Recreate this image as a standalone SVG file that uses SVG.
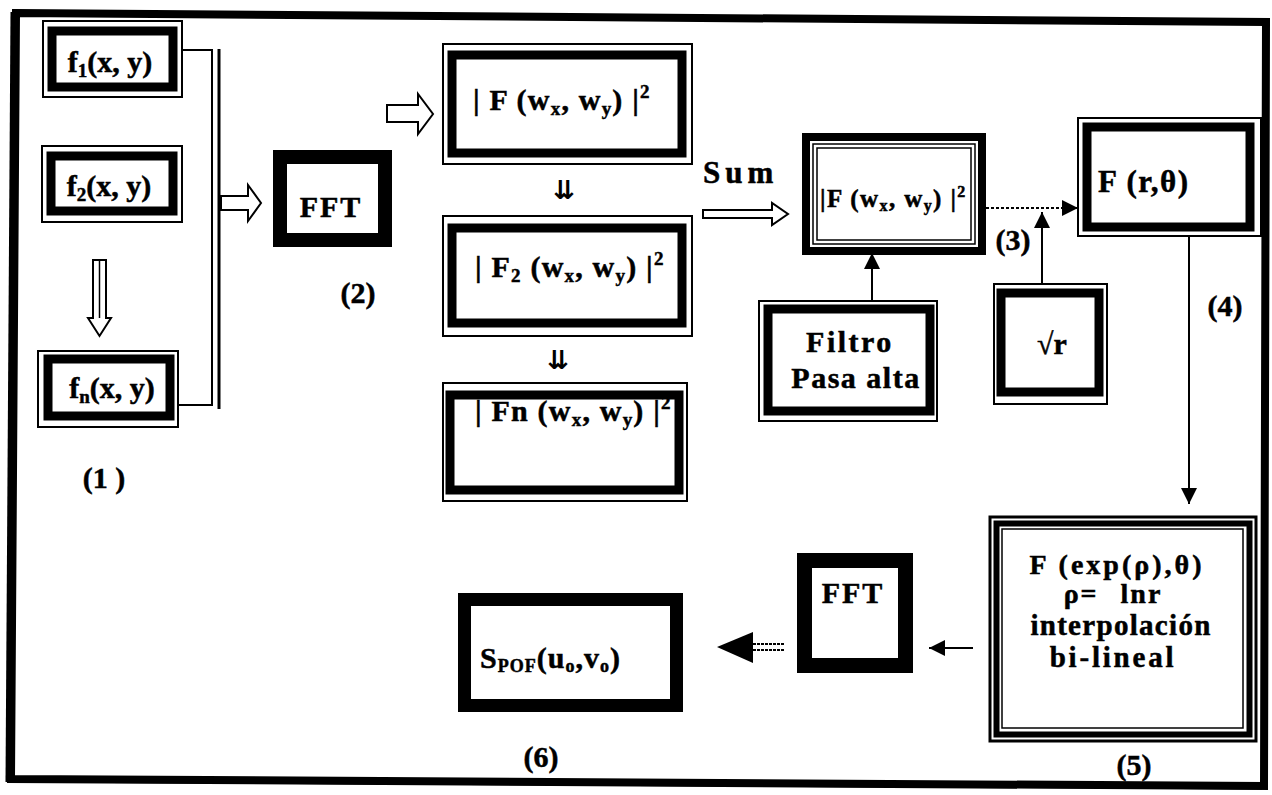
<svg xmlns="http://www.w3.org/2000/svg" width="1272" height="795" viewBox="0 0 1272 795">
  <style>
    .t { font-family: "Liberation Serif", "Times New Roman", serif; font-weight: bold; fill: #000; stroke: #000; stroke-width: 0.5; }
    .thin { fill: none; stroke: #000; stroke-width: 2; }
    .hair { fill: none; stroke: #000; stroke-width: 1.5; }
    .band { fill: none; stroke: #000; stroke-width: 9; }
    .heavy { fill: none; stroke: #000; }
    .hollow { fill: #fff; stroke: #000; stroke-width: 2; stroke-linejoin: miter; }
    .wire { fill: none; stroke: #000; stroke-width: 2; }
    .dots { fill: none; stroke: #000; stroke-width: 2; stroke-dasharray: 3 2; }
    .head { fill: #000; stroke: none; }
    .sym { font-family: "DejaVu Sans", sans-serif; font-weight: bold; fill: #000; }
  </style>
  <defs>
    <marker id="tip" viewBox="0 0 16 16" refX="16" refY="8" markerWidth="16" markerHeight="16" markerUnits="userSpaceOnUse" orient="auto">
      <path d="M0,0 L16,8 L0,16 Z" fill="#000"/>
    </marker>
  </defs>

  <rect width="1272" height="795" fill="#fff"/>

  <!-- page frame -->
  <g id="frame">
    <path d="M16,13 L1266,22 L1264,786 L11,779 Z" fill="none" stroke="#000" stroke-width="8" stroke-linejoin="miter"/>
    <line x1="13" y1="12" x2="8" y2="782" stroke="#000" stroke-width="5"/>
    <line x1="16" y1="12" x2="1262" y2="21" stroke="#000" stroke-width="3"/>
    <line x1="11" y1="781" x2="1262" y2="788" stroke="#000" stroke-width="3"/>
  </g>

  <!-- input images -->
  <g id="f1">
    <rect class="thin" x="43" y="21" width="139" height="76"/>
    <rect class="band" x="52" y="31" width="121" height="56"/>
    <text class="t" x="110" y="72" font-size="30" text-anchor="middle">f<tspan font-size="19" dy="5">1</tspan><tspan dy="-5">(x, y)</tspan></text>
  </g>
  <g id="f2">
    <rect class="thin" x="42" y="146" width="140" height="76"/>
    <rect class="band" x="51" y="156" width="122" height="55"/>
    <text class="t" x="109" y="196" font-size="30" text-anchor="middle">f<tspan font-size="19" dy="5">2</tspan><tspan dy="-5">(x, y)</tspan></text>
  </g>
  <g id="fn">
    <rect class="thin" x="38" y="351" width="140" height="76"/>
    <rect class="band" x="48" y="359" width="122" height="57"/>
    <text class="t" x="112" y="398" font-size="30" text-anchor="middle">f<tspan font-size="19" dy="5">n</tspan><tspan dy="-5">(x, y)</tspan></text>
  </g>
  <text class="t" x="104" y="488" font-size="30" text-anchor="middle">(1 )</text>

  <!-- first transform -->
  <g id="fft1">
    <rect class="heavy" x="280" y="157" width="105" height="83" stroke-width="14"/>
    <text class="t" x="331" y="217" font-size="30" text-anchor="middle" letter-spacing="2">FFT</text>
  </g>
  <text class="t" x="358" y="303" font-size="30" text-anchor="middle">(2)</text>

  <!-- power spectra -->
  <g id="spec1">
    <rect class="thin" x="443" y="44" width="249" height="120"/>
    <rect class="band" x="452" y="55" width="230" height="98" stroke-width="10"/>
    <text class="t" x="473" y="110" font-size="30" letter-spacing="1.2">| F (w<tspan font-size="19" dy="5">x</tspan><tspan dy="-5">, w</tspan><tspan font-size="19" dy="5">y</tspan><tspan dy="-5">) |</tspan><tspan font-size="19" dy="-12">2</tspan></text>
  </g>
  <g id="spec2">
    <rect class="thin" x="443" y="216" width="249" height="120"/>
    <rect class="band" x="452" y="228" width="230" height="95" stroke-width="10"/>
    <text class="t" x="475" y="277" font-size="30" letter-spacing="1.2">| F<tspan font-size="19" dy="5">2</tspan><tspan dy="-5"> (w</tspan><tspan font-size="19" dy="5">x</tspan><tspan dy="-5">, w</tspan><tspan font-size="19" dy="5">y</tspan><tspan dy="-5">) |</tspan><tspan font-size="19" dy="-12">2</tspan></text>
  </g>
  <g id="specn">
    <rect class="thin" x="443" y="383" width="244" height="118"/>
    <rect class="band" x="450" y="395" width="229" height="95" stroke-width="9"/>
    <text class="t" x="475" y="421" font-size="30" letter-spacing="1.2">| Fn (w<tspan font-size="19" dy="5">x</tspan><tspan dy="-5">, w</tspan><tspan font-size="19" dy="5">y</tspan><tspan dy="-5">) |</tspan><tspan font-size="19" dy="-12">2</tspan></text>
  </g>
  <text class="sym" x="564" y="199" font-size="26" text-anchor="middle">⇊</text>
  <text class="sym" x="558" y="369" font-size="26" text-anchor="middle">⇊</text>

  <!-- summed spectrum -->
  <text class="t" x="703" y="183" font-size="31" letter-spacing="5">Sum</text>
  <g id="sum">
    <rect class="heavy" x="806" y="137" width="176" height="114" stroke-width="8"/>
    <rect class="hair" x="813" y="144" width="162" height="100"/>
    <rect class="hair" x="817" y="148" width="154" height="92"/>
    <text class="t" x="820" y="207" font-size="25" letter-spacing="1.4">|F (w<tspan font-size="16" dy="4">x</tspan><tspan dy="-4">, w</tspan><tspan font-size="16" dy="4">y</tspan><tspan dy="-4">) |</tspan><tspan font-size="16" dy="-10">2</tspan></text>
  </g>

  <g id="filtro">
    <rect class="thin" x="759" y="301" width="178" height="120"/>
    <rect class="band" x="768" y="309" width="162" height="102"/>
    <text class="t" x="850" y="352" font-size="30" text-anchor="middle" letter-spacing="2.5">Filtro</text>
    <text class="t" x="856" y="388" font-size="30" text-anchor="middle" letter-spacing="1.5">Pasa alta</text>
  </g>

  <g id="raiz">
    <rect class="thin" x="994" y="284" width="113" height="120"/>
    <rect class="band" x="1001" y="293" width="98" height="99" stroke-width="8"/>
    <text class="t" x="1052" y="354" font-size="30" text-anchor="middle">√r</text>
  </g>
  <text class="t" x="1013" y="250" font-size="30" text-anchor="middle">(3)</text>

  <g id="polar">
    <rect class="thin" x="1078" y="118" width="183" height="118"/>
    <rect class="band" x="1087" y="127" width="163" height="100" stroke-width="10"/>
    <text class="t" x="1098" y="192" font-size="31" letter-spacing="1.5">F (r,θ)</text>
  </g>
  <text class="t" x="1225" y="316" font-size="30" text-anchor="middle">(4)</text>

  <g id="logpolar">
    <rect class="heavy" x="990" y="517" width="266" height="224" stroke-width="3"/>
    <rect class="heavy" x="996.5" y="523.5" width="253" height="211" stroke-width="6"/>
    <rect class="hair" x="1002" y="529" width="241" height="199"/>
    <text class="t" x="1117" y="574" font-size="28" text-anchor="middle" letter-spacing="3">F (exp(ρ),θ)</text>
    <text class="t" x="1113" y="603" font-size="28" text-anchor="middle" letter-spacing="2">ρ=<tspan dx="22">lnr</tspan></text>
    <text class="t" x="1121" y="635" font-size="29" text-anchor="middle" letter-spacing="1.3">interpolación</text>
    <text class="t" x="1113" y="667" font-size="29" text-anchor="middle" letter-spacing="2.8">bi-lineal</text>
  </g>
  <text class="t" x="1134" y="775" font-size="30" text-anchor="middle">(5)</text>

  <g id="fft2">
    <rect class="heavy" x="804.5" y="560.5" width="101" height="105" stroke-width="15"/>
    <text class="t" x="853" y="603" font-size="30" text-anchor="middle" letter-spacing="2">FFT</text>
  </g>

  <g id="spof">
    <rect class="heavy" x="464.5" y="599.5" width="212" height="106" stroke-width="13"/>
    <text class="t" x="480" y="668" font-size="30" letter-spacing="1">S<tspan font-size="18" dy="4">POF</tspan><tspan dy="-4">(u</tspan><tspan font-size="18" dy="4">o</tspan><tspan dy="-4">,v</tspan><tspan font-size="18" dy="4">o</tspan><tspan dy="-4">)</tspan></text>
  </g>
  <text class="t" x="541" y="767" font-size="30" text-anchor="middle">(6)</text>

  <!-- connectors -->
  <g id="connectors">
    <!-- bracket gathering the inputs -->
    <polyline class="thin" points="183,50 212,50 212,405 179,405"/>
    <line x1="219" y1="49" x2="219" y2="409" stroke="#000" stroke-width="3"/>
    <polygon class="hollow" points="221,196 248,196 248,185 261,203 248,221 248,210 221,210"/>
    <!-- ellipsis arrow between inputs -->
    <polygon class="hollow" points="93,260 106,260 106,318 111,318 99.5,336 88,318 93,318"/>
    <line x1="99.5" y1="260" x2="99.5" y2="318" stroke="#000" stroke-width="1.5"/>
    <!-- FFT to spectra -->
    <polygon class="hollow" points="387,105 418,105 418,94 433,114 418,134 418,122 387,122"/>
    <!-- sum of spectra -->
    <polygon class="hollow" points="703,210 772,210 772,203 788,214 772,225 772,218 703,218"/>
    <!-- filter into summed spectrum -->
    <line class="wire" x1="872" y1="301" x2="872" y2="253" marker-end="url(#tip)"/>
    <!-- summed spectrum to polar -->
    <line class="dots" x1="986" y1="208" x2="1078" y2="208" marker-end="url(#tip)"/>
    <!-- square root -->
    <line class="wire" x1="1042" y1="284" x2="1042" y2="212" marker-end="url(#tip)"/>
    <!-- polar to log-polar -->
    <line class="wire" x1="1189" y1="237" x2="1189" y2="504" marker-end="url(#tip)"/>
    <!-- log-polar to FFT -->
    <line class="wire" x1="973" y1="648" x2="929" y2="648" marker-end="url(#tip)"/>
    <!-- FFT to filter output -->
    <line x1="753" y1="644" x2="785" y2="644" stroke="#000" stroke-width="2" stroke-dasharray="3 1"/>
    <line x1="753" y1="650" x2="785" y2="650" stroke="#000" stroke-width="2" stroke-dasharray="3 1"/>
    <polygon class="head" points="753,632 753,663 717,647"/>
  </g>
</svg>
